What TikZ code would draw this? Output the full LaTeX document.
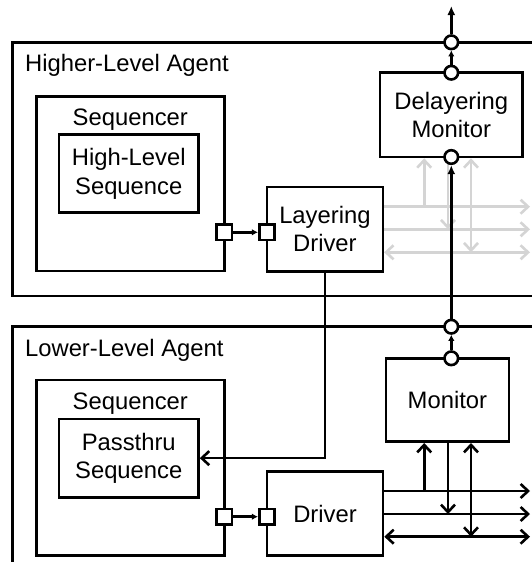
\documentclass[tikz,border=0pt]{standalone}
\usepackage{fontspec}
\setmainfont{Liberation Sans}
\usetikzlibrary{arrows.meta}
\definecolor{lg}{RGB}{212,212,212}
\begin{document}
\begin{tikzpicture}[x=1pt,y=-1pt,line width=2.6pt,
  box/.style={draw,inner sep=0pt},
  txt/.style={font=\fontsize{23.8}{28.5}\selectfont,align=center},
  port/.style={draw,fill=white,minimum size=15.5pt,inner sep=0pt},
  circ/.style={circle,draw,fill=white,minimum size=13.6pt,inner sep=0pt},
  barb/.style={-{Straight Barb[length=7.5pt,width=14pt]}},
  dbarb/.style={{Straight Barb[length=7.5pt,width=14pt]}-{Straight Barb[length=7.5pt,width=14pt]}},
  fa/.style={-{Latex[length=9pt,width=8pt]}},
  sa/.style={-{Latex[length=6pt,width=6.5pt]}}]
\clip (0,0) rectangle (532,562);
\fill[white] (0,0) rectangle (532,562);
% agents
\node[box,minimum width=587.4pt,minimum height=253.7pt] (hla) at (306.3,169.15) {};
\node[txt,anchor=base west,inner sep=0pt] (hlat) at (23.8,71) {Higher-Level Agent};
\node[box,minimum width=587.4pt,minimum height=293.3pt] (lla) at (306.3,473.35) {};
\node[txt,anchor=base west,inner sep=0pt] (llat) at (23.8,356) {Lower-Level Agent};
% higher agent contents
\node[box,minimum width=188pt,minimum height=174.3pt] (seq1) at (130.3,183.85) {};
\node[txt,anchor=base,inner sep=0pt] (seq1t) at (130.3,125) {Sequencer};
\node[box,txt,minimum width=139.5pt,minimum height=78pt] (hls) at (128.75,173.7) {High-Level\\Sequence};
\node[box,txt,minimum width=115.8pt,minimum height=84.3pt] (ld) at (324.9,229.15) {Layering\\Driver};
\node[box,txt,minimum width=142.6pt,minimum height=84.3pt] (dm) at (451.3,114.85) {Delayering\\Monitor};
% lower agent contents
\node[box,minimum width=188pt,minimum height=175.7pt] (seq2) at (130.3,467.85) {};
\node[txt,anchor=base,inner sep=0pt] (seq2t) at (130.3,409.5) {Sequencer};
\node[box,txt,minimum width=139.5pt,minimum height=78.3pt] (ps) at (128.75,458.15) {Passthru\\Sequence};
\node[box,txt,minimum width=116pt,minimum height=84pt] (drv) at (325,513.7) {Driver};
\node[box,txt,minimum width=123.2pt,minimum height=83.4pt] (mon) at (447.4,400) {Monitor};
% gray connectors (higher)
\coordinate (ga) at (530,206.7);
\coordinate (gb) at (530,229.3);
\coordinate (gc) at (530,252.3);
\coordinate (gv1) at (424.2,206.7);
\coordinate (gv2) at (448,229.3);
\coordinate (gv3) at (471,252.3);
\begin{scope}[draw=lg,color=lg]
\draw[barb] (ld.east |- ga) -- (ga);
\draw[barb] (ld.east |- gb) -- (gb);
\draw[dbarb] (ld.east |- gc) -- (gc);
\draw[barb] (gv1) -- (gv1 |- dm.south);
\draw[barb] (gv2 |- dm.south) -- (gv2);
\draw[dbarb] (gv3) -- (gv3 |- dm.south);
\end{scope}
% black connectors (lower)
\coordinate (ba) at (530,491);
\coordinate (bb) at (530,514);
\coordinate (bc) at (530,536.7);
\coordinate (bv1) at (424.2,491);
\coordinate (bv2) at (448,514);
\coordinate (bv3) at (471,536.7);
\draw[barb] (drv.east |- ba) -- (ba);
\draw[barb] (drv.east |- bb) -- (bb);
\draw[dbarb] (drv.east |- bc) -- (bc);
\draw[barb] (bv1) -- (bv1 |- mon.south);
\draw[barb] (bv2 |- mon.south) -- (bv2);
\draw[dbarb] (bv3) -- (bv3 |- mon.south);
% layering driver to passthru
\draw[barb] (ld.south) |- (ps.east);
% ports
\node[port] (p1) at (224.3,232.3) {};
\node[port] (p2) at (267,232.3) {};
\node[port] (p3) at (224.3,516.7) {};
\node[port] (p4) at (267,516.7) {};
\draw[sa] (p1.east) -- (p2.west);
\draw[sa] (p3.east) -- (p4.west);
% circles
\node[circ] (c1) at (451.3,42.3) {};
\node[circ] (c2) at (451.3,72.7) {};
\node[circ] (c3) at (451.3,157) {};
\node[circ] (c4) at (451.3,326.7) {};
\node[circ] (c5) at (451.3,358.3) {};
\coordinate (top) at (451.3,6);
\draw[fa] (c1.north) -- (top);
\draw[sa] (c2.north) -- (c1.south);
\draw[fa] (c4.north) -- (c3.south);
\draw[sa] (c5.north) -- (c4.south);
\end{tikzpicture}
\end{document}
